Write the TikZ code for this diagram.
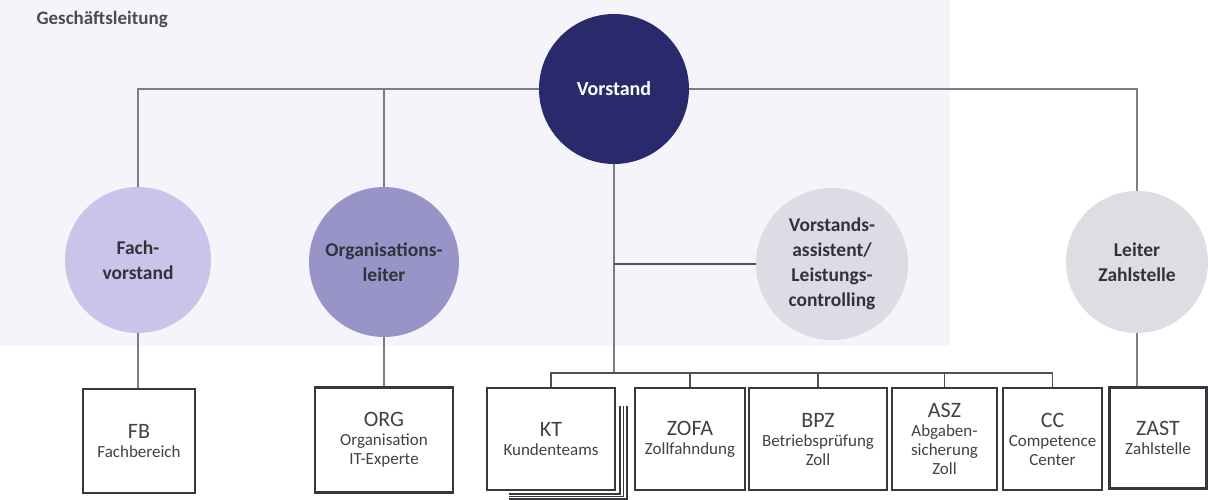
\documentclass[tikz,border=0pt]{standalone}
\usepackage{fontspec}
\setmainfont{Carlito}
\usetikzlibrary{calc,backgrounds}

\definecolor{pagetint}{RGB}{245,244,250}
\definecolor{navy}{RGB}{40,42,108}
\definecolor{fachlila}{RGB}{201,196,233}
\definecolor{orglila}{RGB}{153,148,199}
\definecolor{assistgray}{RGB}{220,220,228}
\definecolor{leitergray}{RGB}{221,222,228}
\definecolor{headtext}{RGB}{50,50,60}
\definecolor{titlegray}{RGB}{75,75,85}
\definecolor{linkgray}{RGB}{125,125,135}
\definecolor{busgray}{RGB}{80,80,90}
\definecolor{unitframe}{RGB}{55,55,60}
\definecolor{unittext}{RGB}{65,65,72}

\newcommand{\unittitle}{\fontsize{22}{24}\selectfont}

\begin{document}
\begin{tikzpicture}[x=1pt, y=-1pt,
    head/.style={circle, inner sep=0pt, minimum size=#1, align=center, text=headtext,
      font=\bfseries\fontsize{19.5}{25}\selectfont},
    unit/.style={draw=unitframe, line width=2.2pt, fill=white, inner sep=0pt,
      minimum width=#1, minimum height=102pt, align=center, text=unittext,
      font=\fontsize{17}{19}\selectfont},
    link/.style={draw=linkgray, line width=1.2pt},
    branch/.style={draw=busgray, line width=2pt},
    busline/.style={draw=busgray, line width=1.8pt},
    sheet/.style={draw=unitframe, line width=1.6pt}]
  \useasboundingbox (0,0) rectangle (1208,500);

  \node[anchor=base west, text=titlegray, font=\bfseries\fontsize{19}{22}\selectfont] (gl) at (33,25) {Geschäftsleitung};

  % Leitungsebene
  \node[head=150pt, fill=navy, text=white, font=\bfseries\fontsize{20}{24}\selectfont] (vorstand) at (614,89) {Vorstand};
  \node[head=146pt, fill=fachlila] (fach) at (138,260) {Fach-\\vorstand};
  \node[head=150pt, fill=orglila] (org) at (384,262) {Organisations-\\leiter};
  \node[head=152pt, fill=assistgray] (assist) at (832,264) {Vorstands-\\assistent/\\Leistungs-\\controlling};
  \node[head=142pt, fill=leitergray] (leiter) at (1137,262) {Leiter\\Zahlstelle};

  % Bereiche
  \node[unit=112pt, minimum height=104pt] (fb) at (139,441) {{\unittitle FB}\\Fachbereich};
  \node[unit=138pt, minimum height=105pt] (orgunit) at (384,440) {{\unittitle ORG}\\Organisation\\IT-Experte};
  \node[unit=128pt] (kt) at (551,439) {{\unittitle KT}\\Kundenteams};
  \node[unit=110pt] (zofa) at (690,439) {{\unittitle ZOFA}\\Zollfahndung};
  \node[unit=138pt] (bpz) at (818,439) {{\unittitle BPZ}\\Betriebsprüfung\\Zoll};
  \node[unit=105pt] (asz) at (944.5,439) {{\unittitle ASZ}\\Abgaben-\\sicherung\\Zoll};
  \node[unit=99pt] (cc) at (1052.5,439) {{\unittitle CC}\\Competence\\Center};
  \node[unit=97pt, minimum height=101pt] (zast) at (1158,438) {{\unittitle ZAST}\\Zahlstelle};

  \coordinate (bus) at (614,373);

  % gestapelte Kundenteams
  \foreach \i in {1,2,3}
    \draw[sheet] ($(kt.south west)+(23,2.6*\i)$) -| ($(kt.north east)+(3.6*\i,19)$);

  \begin{scope}[on background layer]
    \fill[pagetint] (0,0) rectangle (950,346);
    \draw[link] (fach.north) |- (vorstand.center) -| (leiter.north);
    \draw[link] (org.north) -- (org.north |- vorstand.center);
    \draw[link] (fach.south) -- (fach.south |- fb.north);
    \draw[link] (org.south) -- (org.south |- orgunit.north);
    \draw[link] (leiter.south) -- (leiter.south |- zast.north);
    \draw[link] (vorstand.south) -- (bus);
    \draw[branch] (vorstand.south |- assist.west) -- (assist.west);
    \draw[busline] (kt.north) |- (bus) -| (cc.north);
    \foreach \u in {zofa,bpz,asz}
      \draw[busline] (\u.north) -- (\u.north |- bus);
  \end{scope}
\end{tikzpicture}
\end{document}
